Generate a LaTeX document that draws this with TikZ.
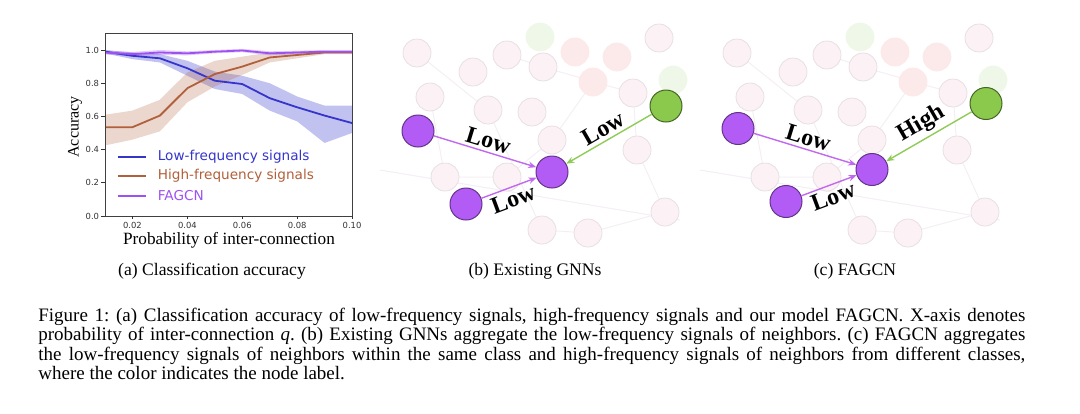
\documentclass[tikz,border=0pt]{standalone}
\usepackage{fontspec}
\setmainfont{Liberation Serif}
\newfontfamily\plotfont{DejaVu Sans}
\usepackage{tikz}
\usetikzlibrary{arrows.meta}
\frenchspacing
\definecolor{LowBlue}{HTML}{3535CC}
\definecolor{HighBrown}{HTML}{B0603A}
\definecolor{FagPurple}{HTML}{9D52F0}
\definecolor{NodePurple}{HTML}{B35CF5}
\definecolor{NodeGreen}{HTML}{8BC94C}
\definecolor{EdgePurple}{HTML}{C069EF}
\definecolor{EdgeGreen}{HTML}{8FCB57}
\definecolor{BgPink}{HTML}{FCF2F6}
\definecolor{BgRed}{HTML}{FCE9EA}
\definecolor{BgGreen}{HTML}{EFF7E8}
\definecolor{BgLine}{HTML}{F4EEF5}

\tikzset{
  pnode/.style={circle,fill=NodePurple,draw=NodePurple!55!black,line width=0.5pt,minimum size=16pt,inner sep=0pt},
  gnode/.style={circle,fill=NodeGreen,draw=NodeGreen!50!black,line width=0.5pt,minimum size=16pt,inner sep=0pt},
  pedge/.style={draw=EdgePurple,line width=0.7pt,-{Stealth[length=4pt,width=3.2pt]}},
  gedge/.style={draw=EdgeGreen,line width=0.7pt,-{Stealth[length=4pt,width=3.2pt]}},
  elabel/.style={font=\fontsize{12}{12}\selectfont\bfseries,inner sep=1.5pt},
  bgnode/.style={line width=0.4pt},
  tick/.style={line width=0.4pt,black!80},
  ticklabel/.style={font=\plotfont\fontsize{4.2}{5}\selectfont,inner sep=1pt},
  legend/.style={font=\plotfont\fontsize{6.8}{8}\selectfont,inner sep=0pt,anchor=west},
  subcap/.style={font=\fontsize{8.8}{10}\selectfont,inner sep=0pt,anchor=base},
}

\begin{document}
\begin{tikzpicture}[x=0.5pt,y=-0.5pt]
\useasboundingbox (0,0) rectangle (1080,413);

% (a) accuracy plot
\begin{scope}[shift={(77.55,216)},xscale=27.45,yscale=-166]
\begin{scope}
\clip (1,0) rectangle (10,1.1);
\fill[LowBlue,opacity=0.3] (1,1.0) -- (2,0.985) -- (3,0.975) -- (4,0.935) -- (5,0.87) -- (6,0.845) -- (7,0.80) -- (8,0.72) -- (9,0.665) -- (10,0.665)
  -- (10,0.50) -- (9,0.44) -- (8,0.57) -- (7,0.635) -- (6,0.735) -- (5,0.765) -- (4,0.845) -- (3,0.925) -- (2,0.945) -- (1,0.98) -- cycle;
\fill[HighBrown,opacity=0.25] (1,0.61) -- (2,0.635) -- (3,0.70) -- (4,0.865) -- (5,0.935) -- (6,0.96) -- (7,0.985) -- (8,0.99) -- (9,0.995) -- (10,0.99)
  -- (10,0.975) -- (9,0.975) -- (8,0.95) -- (7,0.925) -- (6,0.85) -- (5,0.78) -- (4,0.685) -- (3,0.51) -- (2,0.46) -- (1,0.425) -- cycle;
\fill[FagPurple,opacity=0.3] (1,0.997) -- (2,0.988) -- (3,1.0) -- (4,0.992) -- (5,1.0) -- (6,1.007) -- (7,0.992) -- (8,0.996) -- (9,1.0) -- (10,1.0)
  -- (10,0.98) -- (9,0.98) -- (8,0.974) -- (7,0.968) -- (6,0.987) -- (5,0.98) -- (4,0.968) -- (3,0.97) -- (2,0.962) -- (1,0.973) -- cycle;
\draw[LowBlue,line width=0.9pt] plot coordinates {(1,0.99) (2,0.965) (3,0.95) (4,0.89) (5,0.815) (6,0.795) (7,0.71) (8,0.655) (9,0.605) (10,0.56)};
\draw[HighBrown,line width=0.9pt] plot coordinates {(1,0.535) (2,0.535) (3,0.605) (4,0.77) (5,0.855) (6,0.90) (7,0.955) (8,0.97) (9,0.985) (10,0.985)};
\draw[FagPurple,line width=0.9pt] plot coordinates {(1,0.985) (2,0.975) (3,0.985) (4,0.98) (5,0.99) (6,0.997) (7,0.98) (8,0.985) (9,0.99) (10,0.99)};
\end{scope}
\draw[line width=0.5pt,black!75] (1,0) rectangle (10,1.1);
\foreach \v in {0.0,0.2,0.4,0.6,0.8,1.0}
  \draw[tick] (1,\v) -- (0.87,\v) node[left,ticklabel] {\v};
\foreach \t/\l in {2/0.02,4/0.04,6/0.06,8/0.08,10/0.10}
  \draw[tick] (\t,0) -- (\t,-0.021) node[below,ticklabel] {\l};
\end{scope}
\node[rotate=90,font=\fontsize{8}{8}\selectfont,inner sep=0pt] (ylab) at (75,127) {Accuracy};
\node[font=\fontsize{8.6}{9}\selectfont,inner sep=0pt] (xlab) at (229,240) {Probability of inter-connection};

% legend
\draw[LowBlue,line width=0.9pt] (118,157) -- (146,157) node[legend,xshift=5.5pt] (legLow) {Low-frequency signals};
\draw[HighBrown,line width=0.9pt] (118,176) -- (146,176) node[legend,xshift=5.5pt] (legHigh) {High-frequency signals};
\draw[FagPurple,line width=0.9pt] (118,196) -- (146,196) node[legend,xshift=5.5pt] (legFag) {FAGCN};

% faded graph behind (b) and (c)
\foreach \dx in {0,320} {
  \begin{scope}[shift={(380+\dx,30)}]
  \draw[BgLine,line width=0.5pt] (37,23) -- (108,80) -- (162,200) -- (208,203) -- (285,182);
  \draw[BgLine,line width=0.5pt] (127,25) -- (163,37) -- (253,63) -- (257,120) -- (285,182);
  \draw[BgLine,line width=0.5pt] (50,67) -- (65,147) -- (127,147) -- (172,110) -- (213,52);
  \draw[BgLine,line width=0.5pt] (0,140) -- (300,190);
  \foreach \x/\y in {37/23,93/42,127/25,163/37,253/63,50/67,108/80,152/82,172/110,257/120,65/147,127/147,285/182,162/200,208/203,279/8}
    \draw[bgnode,fill=BgPink,draw=BgPink!92!black] (\x,\y) circle[radius=14];
  \foreach \x/\y in {195/22,237/27,213/52}
    \draw[bgnode,fill=BgRed,draw=BgRed] (\x,\y) circle[radius=14];
  \foreach \x/\y in {160/7,293/50}
    \draw[bgnode,fill=BgGreen,draw=BgGreen] (\x,\y) circle[radius=14];
  \end{scope}
}

% (b) existing GNNs
\node[pnode] (bL) at (418,131) {};
\node[pnode] (bC) at (552,172) {};
\node[pnode] (bD) at (466,204) {};
\node[gnode] (bG) at (666,106) {};
\draw[pedge] (bL) -- node[elabel,sloped,above] {Low} (bC);
\draw[pedge] (bD) -- node[elabel,sloped,below] {Low} (bC);
\draw[gedge] (bG) -- node[elabel,sloped,above] {Low} (bC);

% (c) FAGCN
\begin{scope}[shift={(320,-2.5)}]
\node[pnode] (cL) at (418,131) {};
\node[pnode] (cC) at (552,172) {};
\node[pnode] (cD) at (466,204) {};
\node[gnode] (cG) at (666,106) {};
\draw[pedge] (cL) -- node[elabel,sloped,above] {Low} (cC);
\draw[pedge] (cD) -- node[elabel,sloped,below] {Low} (cC);
\draw[gedge] (cG) -- node[elabel,sloped,above] {High} (cC);
\end{scope}

% captions
\node[subcap] (capA) at (212,275) {(a) Classification accuracy};
\node[subcap] (capB) at (535,275) {(b) Existing GNNs};
\node[subcap] (capC) at (855,275) {(c) FAGCN};
\node[anchor=base west,inner sep=0pt,text width=493.5pt,align=justify,font=\fontsize{9.5}{9.75}\selectfont] (cap) at (38,321)
  {Figure 1: (a) Classification accuracy of low-frequency signals, high-frequency signals and our model FAGCN. X-axis denotes\linebreak
   probability of inter-connection \textit{q}. (b) Existing GNNs aggregate the low-frequency signals of neighbors. (c) FAGCN aggregates\linebreak
   the low-frequency signals of neighbors within the same class and high-frequency signals of neighbors from different classes,\linebreak
   where the color indicates the node label.};
\end{tikzpicture}
\end{document}
